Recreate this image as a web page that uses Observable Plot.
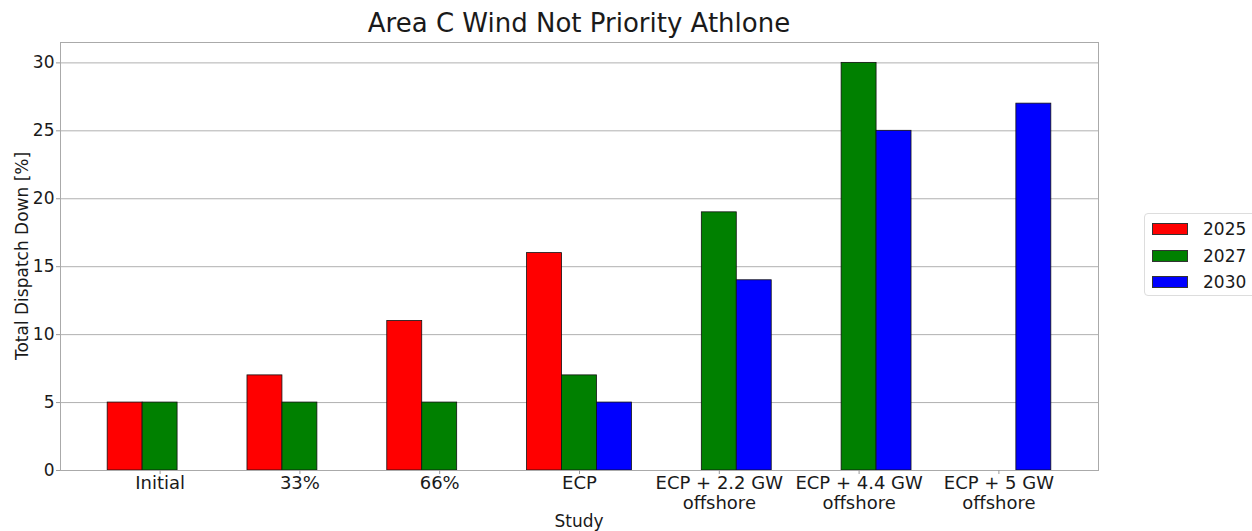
<!DOCTYPE html>
<html><head><meta charset="utf-8">
<script src="https://cdn.jsdelivr.net/npm/d3@7"></script>
<script src="https://cdn.jsdelivr.net/npm/@observablehq/plot@0.6"></script>
<style>
body{margin:0;background:#fff;font-family:"DejaVu Sans",sans-serif;color:#1a1a1a;}
#wrap{position:relative;width:1252px;height:531px;overflow:hidden;background:#fff;}
#wrap svg{position:absolute;left:0;top:0;}
.title{position:absolute;left:60px;width:1038px;top:8px;text-align:center;font-size:26px;line-height:30px;}
.ylab{position:absolute;left:22px;top:256px;transform:translate(-50%,-50%) rotate(-90deg);white-space:nowrap;font-size:17px;}
.xlab{position:absolute;left:60px;width:1038px;top:511px;text-align:center;font-size:17px;line-height:20px;}
.legend{position:absolute;left:1144px;top:213px;width:130px;height:83px;border:1px solid #ddd;border-radius:4px;box-sizing:border-box;background:#fff;}
.legend .row{position:absolute;left:7px;height:20px;display:flex;align-items:center;font-size:17px;}
.legend .sw{width:36px;height:12px;border:0.8px solid #333;box-sizing:border-box;margin-right:15px;}
</style></head><body><div id="wrap"></div>
<script>
const studies = ["Initial","33%","66%","ECP","ECP + 2.2 GW\noffshore","ECP + 4.4 GW\noffshore","ECP + 5 GW\noffshore"];
const years = ["2025","2027","2030"];
const v2025 = [5,7,11,16,0,0,0];
const v2027 = [5,5,5,7,19,30,0];
const v2030 = [0,0,0,5,14,25,27];
const colors = ["#ff0000","#008000","#0000ff"];
const yTicks = [0,5,10,15,20,25,30];

const series = [v2025, v2027, v2030];
const barW = 0.25;
const rows = [];
series.forEach((vals, j) => vals.forEach((v, i) => {
  if (v > 0) rows.push({study: i, year: years[j], j, value: v});
}));

const chart = Plot.plot({
  width: 1252, height: 531,
  marginLeft: 60, marginRight: 154, marginTop: 42, marginBottom: 61,
  style: {fontFamily: "DejaVu Sans, sans-serif", background: "#fff", color: "#1a1a1a"},
  x: {type: "linear", domain: [-0.7125, 6.7125]},
  y: {domain: [0, 31.5]},
  color: {domain: years, range: colors},
  marks: [
    Plot.ruleY(yTicks, {stroke: "#b0b0b0", strokeWidth: 1}),
    Plot.rect(rows, {
      x1: d => d.study + (d.j - 1) * barW - barW / 2,
      x2: d => d.study + (d.j - 1) * barW + barW / 2,
      y1: 0, y2: "value", fill: "year", stroke: "#111", strokeWidth: 0.8
    }),
    Plot.frame({stroke: "#aaaaaa", strokeWidth: 1}),
    Plot.axisX(d3.range(studies.length), {
      tickFormat: i => studies[i], tickSize: 4, tickPadding: 0,
      fontSize: 18, lineHeight: 1.12, stroke: "#999", fill: "#1a1a1a", label: null
    }),
    Plot.axisY(yTicks, {
      tickSize: 4, tickPadding: 2, fontSize: 17, stroke: "#999", fill: "#1a1a1a", label: null
    })
  ]
});

const wrap = document.getElementById("wrap");
wrap.appendChild(chart);

const t = document.createElement("div"); t.className = "title";
t.textContent = "Area C Wind Not Priority Athlone"; wrap.appendChild(t);
const yl = document.createElement("div"); yl.className = "ylab";
yl.textContent = "Total Dispatch Down [%]"; wrap.appendChild(yl);
const xl = document.createElement("div"); xl.className = "xlab";
xl.textContent = "Study"; wrap.appendChild(xl);

const lg = document.createElement("div"); lg.className = "legend";
years.forEach((y, k) => {
  const r = document.createElement("div"); r.className = "row";
  r.style.top = (5 + k * 26.5) + "px";
  const sw = document.createElement("div"); sw.className = "sw"; sw.style.background = colors[k];
  const tx = document.createElement("span"); tx.textContent = y;
  r.appendChild(sw); r.appendChild(tx); lg.appendChild(r);
});
wrap.appendChild(lg);
</script>
</body></html>
